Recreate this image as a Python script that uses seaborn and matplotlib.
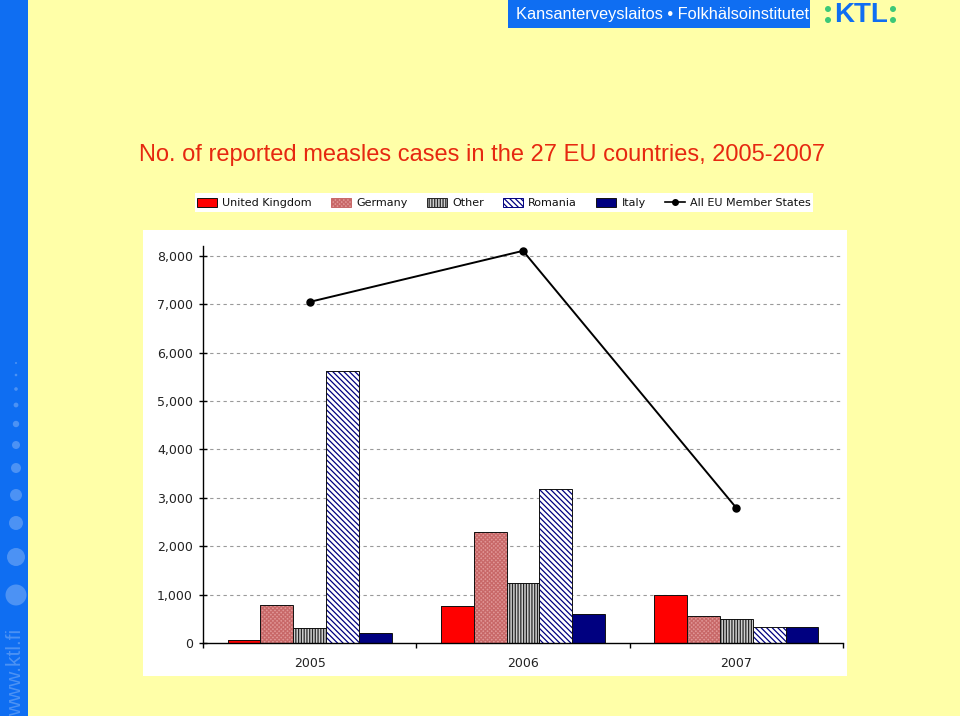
import matplotlib
matplotlib.use("Agg")
import matplotlib.pyplot as plt
import seaborn as sns
import pandas as pd
from matplotlib.patches import Rectangle, Circle, Patch
from matplotlib.lines import Line2D

# ---------------- data ----------------
years = ["2005", "2006", "2007"]
countries = ["United Kingdom", "Germany", "Other", "Romania", "Italy"]
uk = [70, 765, 990]
germany = [790, 2290, 560]
other = [310, 1240, 500]
romania = [5620, 3180, 330]
italy = [210, 600, 330]
all_eu = [7045, 8100, 2790]
y_ticks = [0, 1000, 2000, 3000, 4000, 5000, 6000, 7000, 8000]

series = {"United Kingdom": uk, "Germany": germany, "Other": other,
          "Romania": romania, "Italy": italy}
rows = []
for c in countries:
    for y, v in zip(years, series[c]):
        rows.append({"year": y, "country": c, "cases": v})
df = pd.DataFrame(rows)
df_eu = pd.DataFrame({"year": years, "cases": all_eu})

# ---------------- styles ----------------
face = {"United Kingdom": "#FF0000", "Germany": "#E09696", "Other": "#CFCFCF",
        "Romania": "#FFFFFF", "Italy": "#000080"}
hatch = {"United Kingdom": None, "Germany": "xxxxxxxx", "Other": "||||||",
         "Romania": "\\\\\\\\\\\\", "Italy": None}
hcol = {"United Kingdom": "#FF0000", "Germany": "#C86868", "Other": "#262626",
        "Romania": "#000080", "Italy": "#000080"}

plt.rcParams["hatch.linewidth"] = 0.9
BG = "#FFFFA8"
BLUE = "#0F6EF2"

fig = plt.figure(figsize=(9.6, 7.16), dpi=100)
fig.patch.set_facecolor(BG)

# decorative background layer in pixel coords
bg = fig.add_axes([0, 0, 1, 1], zorder=0)
bg.set_xlim(0, 960)
bg.set_ylim(716, 0)
bg.axis("off")
bg.add_patch(Rectangle((0, 0), 28, 716, facecolor=BLUE, edgecolor="none"))
bg.add_patch(Rectangle((508, 0), 302, 28, facecolor=BLUE, edgecolor="none"))
bg.add_patch(Rectangle((143, 230), 704, 446, facecolor="white", edgecolor="none"))
bg.add_patch(Rectangle((195, 193), 618, 19, facecolor="white", edgecolor="none"))
dots = [(363, 1), (375, 1.3), (389, 1.8), (405, 2.4), (424, 3.2), (445, 4.0),
        (468, 5.0), (495, 6.0), (523, 7.0), (557, 9.0), (595, 10.5)]
for yy, r in dots:
    bg.add_patch(Circle((16, yy), r, facecolor="#4C92F4", edgecolor="none"))
bg.text(16, 672, "www.ktl.fi", rotation=90, ha="center", va="center",
        fontsize=15, color="#4C92F4", family="Liberation Sans")
bg.text(516, 15, "Kansanterveyslaitos \u2022 Folkh\u00e4lsoinstitutet", ha="left",
        va="center", fontsize=11.8, color="white", family="Liberation Sans")
# logo
bg.text(861, 15, "KTL", ha="center", va="center", fontsize=20, color=BLUE,
        fontweight="bold", family="Liberation Sans")
for (xx, yy) in [(828, 9), (828, 20), (893, 9), (893, 20)]:
    bg.add_patch(Circle((xx, yy), 3, facecolor="#3CC878", edgecolor="none"))
bg.text(482, 161, "No. of reported measles cases in the 27 EU countries, 2005-2007",
        ha="center", va="baseline", fontsize=17, color="#E62810",
        family="Liberation Sans")

# ---------------- main chart ----------------
ax = fig.add_axes([203 / 960, 1 - 643 / 716, 640 / 960, (643 - 246) / 716], zorder=2)
ax.set_facecolor("white")
sns.barplot(data=df, x="year", y="cases", hue="country", order=years,
            hue_order=countries, palette=face, saturation=1, width=0.77,
            dodge=True, ax=ax, zorder=2, legend=False)
for cont, c in zip(ax.containers, countries):
    for p in cont:
        p.set_facecolor(face[c])
        p.set_edgecolor(hcol[c])
        p.set_linewidth(0)
        if hatch[c]:
            p.set_hatch(hatch[c])
        b = p.get_bbox()
        ax.add_patch(Rectangle((b.x0, b.y0), b.width, b.height, fill=False,
                               edgecolor="#111111", linewidth=0.7, zorder=3))

sns.pointplot(data=df_eu, x="year", y="cases", order=years, color="black",
              markers="o", markersize=5, linewidth=1.4, errorbar=None, ax=ax)
for ln in ax.lines:
    ln.set_zorder(5)
if ax.get_legend() is not None:
    ax.get_legend().remove()

ax.set_xlim(-0.5, 2.5)
ax.set_ylim(0, 8200)
ax.set_yticks(y_ticks)
ax.set_yticklabels([f"{v:,}" for v in y_ticks])
ax.set_xlabel("")
ax.set_ylabel("")
ax.grid(False)
for v in y_ticks[1:]:
    ax.axhline(v, color="#9A9A9A", linewidth=0.8, linestyle=(0, (3, 3)), zorder=1)
for s in ["top", "right"]:
    ax.spines[s].set_visible(False)
for s in ["left", "bottom"]:
    ax.spines[s].set_color("black")
    ax.spines[s].set_linewidth(1.0)
ax.tick_params(axis="y", direction="inout", length=6, width=1, pad=4.3,
               labelsize=9, labelcolor="#222222")
ax.set_xticks([-0.5, 0.5, 1.5, 2.5], minor=True)
ax.tick_params(axis="x", which="minor", direction="out", length=3.5, width=1)
ax.tick_params(axis="x", which="major", length=0, pad=10, labelsize=9,
               labelcolor="#222222")
for t in ax.get_xticklabels() + ax.get_yticklabels():
    t.set_family("DejaVu Sans")

# ---------------- legend ----------------
handles = []
for c in countries:
    handles.append(Patch(facecolor=face[c], edgecolor=hcol[c] if hatch[c] else "#111111",
                         hatch=hatch[c], linewidth=0.7, label=c))
handles.append(Line2D([], [], color="black", marker="o", markersize=4,
                      linewidth=1.2, label="All EU Member States"))
fig.legend(handles=handles, ncol=6, loc="center",
           bbox_to_anchor=(504 / 960, 1 - 203 / 716), frameon=False,
           fontsize=8, handlelength=1.8, handleheight=0.9, handletextpad=0.45,
           columnspacing=1.75, borderpad=0.1, labelcolor="#111111")

fig.savefig("out.png", dpi=100, facecolor=fig.get_facecolor())
